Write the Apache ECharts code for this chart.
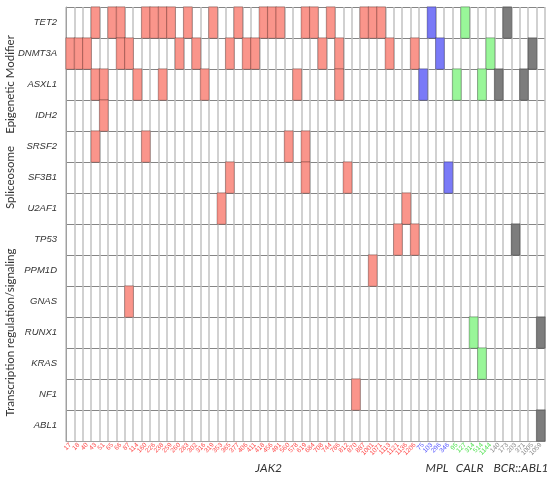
<!DOCTYPE html>
<html>
<head>
<meta charset="utf-8">
<title>Mutations by driver</title>
<script src="https://cdn.jsdelivr.net/npm/echarts@6/dist/echarts.min.js"></script>
<style>
html, body { margin: 0; padding: 0; background: #fff; }
#main { width: 550px; height: 479px; }
</style>
</head>
<body>
<div id="main"></div>
<script>
// genes, top to bottom
var genes = ['TET2', 'DNMT3A', 'ASXL1', 'IDH2', 'SRSF2', 'SF3B1', 'U2AF1',
             'TP53', 'PPM1D', 'GNAS', 'RUNX1', 'KRAS', 'NF1', 'ABL1'];
var geneGroups = ['Epigenetic Modifier', 'Spliceosome', 'Transcription regulation/signaling'];
var geneGroupFirst = [0, 4, 7];
var geneGroupLast = [3, 6, 13];

// patient ids per driver
var drivers = ['JAK2', 'MPL', 'CALR', 'BCR::ABL1'];
var jak2Ids = [17, 18, 40, 43, 51, 65, 66, 87, 114, 160, 226, 238, 259, 260, 283, 302, 316, 319, 353, 365, 377,
               406, 411, 418, 456, 491, 560, 578, 619, 684, 708, 744, 786, 812, 870, 887, 1001, 1071, 1113, 1121, 1136, 1206];
var mplIds = [75, 103, 296, 346];
var calrIds = [95, 127, 314, 514, 1144];
var bcrIds = [140, 173, 203, 371, 1005, 1059];

// mutated patients (column index) per gene
var mutTET2 = [3, 5, 6, 9, 10, 11, 12, 14, 17, 20, 23, 24, 25, 28, 29, 31, 35, 36, 37, 43, 47, 52];
var mutDNMT3A = [0, 1, 2, 6, 7, 13, 15, 19, 21, 22, 30, 32, 38, 41, 44, 50, 55];
var mutASXL1 = [3, 4, 8, 11, 16, 27, 32, 42, 46, 49, 51, 54];
var mutIDH2 = [4];
var mutSRSF2 = [3, 9, 26, 28];
var mutSF3B1 = [19, 28, 33, 45];
var mutU2AF1 = [18, 40];
var mutTP53 = [39, 41, 53];
var mutPPM1D = [36];
var mutGNAS = [7];
var mutRUNX1 = [48, 56];
var mutKRAS = [49];
var mutNF1 = [34];
var mutABL1 = [56];

var driverColors = ['#fa8a7e', '#6c6cf6', '#8ef58e', '#6f6f6f'];
var labelColors = ['#ff4a4a', '#5555ff', '#4fe04f', '#8a8a8a'];

var mutations = [mutTET2, mutDNMT3A, mutASXL1, mutIDH2, mutSRSF2, mutSF3B1, mutU2AF1,
                 mutTP53, mutPPM1D, mutGNAS, mutRUNX1, mutKRAS, mutNF1, mutABL1];

var idLists = [jak2Ids, mplIds, calrIds, bcrIds];
var patients = [];
var patientDriver = [];
idLists.forEach(function (ids, d) {
    ids.forEach(function (id) {
        patients.push(String(id));
        patientDriver.push(d);
    });
});

var cells = [];
mutations.forEach(function (cols, g) {
    cols.forEach(function (c) {
        cells.push([c, g, patientDriver[c]]);
    });
});

var myChart = echarts.init(document.getElementById('main'));
var option = {
    animation: false,
    grid: { left: 66, right: 5, top: 7, bottom: 38 },
    xAxis: {
        type: 'category',
        data: patients,
        axisTick: { show: false },
        axisLine: { show: true, lineStyle: { color: '#a0a0a0' } },
        splitLine: { show: true, interval: 0, lineStyle: { color: '#c2c2c2', width: 1.5 } },
        axisLabel: {
            interval: 0,
            rotate: 45,
            fontSize: 6.5,
            margin: 3,
            fontFamily: 'Liberation Sans',
            color: function (value, index) {
                return labelColors[patientDriver[index]];
            }
        }
    },
    yAxis: {
        type: 'category',
        data: genes,
        inverse: true,
        axisTick: { show: false },
        axisLine: { show: true, lineStyle: { color: '#a0a0a0' } },
        splitLine: { show: true, interval: 0, lineStyle: { color: '#858585', width: 1 } },
        axisLabel: {
            fontSize: 9.5,
            fontStyle: 'italic',
            fontFamily: 'Liberation Sans',
            color: '#333',
            margin: 9
        }
    },
    visualMap: {
        type: 'piecewise',
        show: false,
        dimension: 2,
        pieces: drivers.map(function (d, i) {
            return { value: i, color: driverColors[i] };
        })
    },
    series: [{
        type: 'heatmap',
        data: cells,
        itemStyle: { borderColor: 'rgba(0,0,0,0.28)', borderWidth: 1, opacity: 0.9 }
    }]
};
myChart.setOption(option);

// group captions placed from the axes
var captionNudge = [22, -3, -4, -3];
var graphics = [];
drivers.forEach(function (d, i) {
    var first = patientDriver.indexOf(i);
    var last = patientDriver.lastIndexOf(i);
    var px = myChart.convertToPixel({ gridIndex: 0 }, [(first + last) / 2, 0])[0];
    graphics.push({
        type: 'text', x: px + captionNudge[i], y: 468,
        style: { text: d, fontSize: 12, fontStyle: 'italic', fontFamily: 'Lato', fill: '#333',
                 align: 'center', verticalAlign: 'middle' }
    });
});
geneGroups.forEach(function (name, i) {
    var py = myChart.convertToPixel({ gridIndex: 0 }, [0, (geneGroupFirst[i] + geneGroupLast[i]) / 2])[1];
    graphics.push({
        type: 'text', x: 10, y: py, rotation: Math.PI / 2,
        style: { text: name, fontSize: 11.5, fontFamily: 'Lato', fill: '#333',
                 align: 'center', verticalAlign: 'middle' }
    });
});
myChart.setOption({ graphic: graphics });
</script>
</body>
</html>
